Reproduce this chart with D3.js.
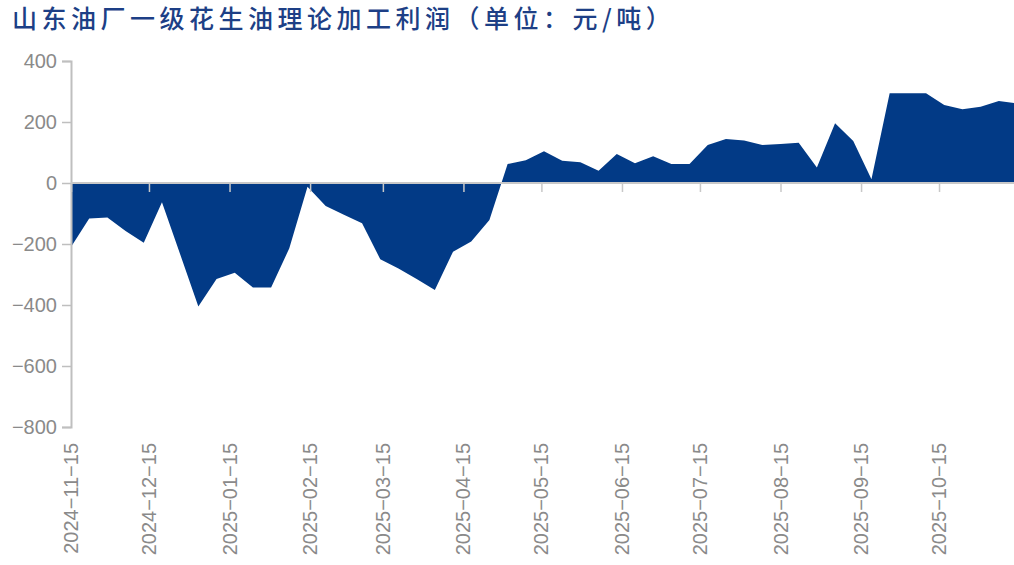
<!DOCTYPE html>
<html>
<head>
<meta charset="utf-8">
<script src="https://cdn.jsdelivr.net/npm/d3@7"></script>
<style>
	body { margin: 0; background: #fff; }
	svg { display: block; }
</style>
</head>
<body>
<div id="chart"></div>
<script>
'use strict';

// weekly dates (fridays) and profit values, yuan per ton
var startDate = '2024-11-15';
var profit = [
	-210, -116, -113, -157, -196, -63, -234, -405, -315, -294,
	-343, -343, -214, -12, -75, -104, -132, -250, -280, -315,
	-351, -225, -192, -121, 62, 75, 104, 73, 68, 40,
	95, 65, 88, 62, 62, 125, 144, 139, 125, 128,
	132, 51, 196, 138, 12, 294, 294, 294, 256, 242,
	250, 269, 261
];
var yTicks = [400, 200, 0, -200, -400, -600, -800];
var xTickLabels = [
	'2024-11-15', '2024-12-15', '2025-01-15', '2025-02-15', '2025-03-15', '2025-04-15',
	'2025-05-15', '2025-06-15', '2025-07-15', '2025-08-15', '2025-09-15', '2025-10-15'
];

InitVis();

function InitVis() {
	// constants
	var WIDTH = 1014,
		HEIGHT = 565;

	var parse = d3.utcParse('%Y-%m-%d');
	var start = parse(startDate);
	var data = profit.map(function(v, i) {
		return { date: d3.utcDay.offset(start, i * 7), value: v };
	});

	var x = d3.scaleUtc()
		.domain([start, d3.utcDay.offset(start, 364)])
		.range([71, 1017]);

	var y = d3.scaleLinear()
		.domain([-800, 400])
		.range([427, 61]);

	var svg = d3.select('#chart').append('svg')
		.attr('width', WIDTH)
		.attr('height', HEIGHT);

	// title
	svg.append('text')
		.attr('x', 12)
		.attr('y', 28)
		.style('font-family', '"Noto Sans CJK SC", sans-serif')
		.style('font-size', '25px')
		.style('font-weight', 500)
		.style('letter-spacing', '4.5px')
		.attr('fill', '#1d3f86')
		.text('山东油厂一级花生油理论加工利润（单位：元/吨）');

	// area
	var area = d3.area()
		.x(function(d) { return x(d.date); })
		.y0(y(0))
		.y1(function(d) { return y(d.value); });

	svg.append('path')
		.datum(data)
		.attr('d', area)
		.attr('fill', '#023a86');

	// y axis
	var yAxis = svg.append('g')
		.attr('transform', 'translate(71,0)')
		.call(d3.axisLeft(y).tickValues(yTicks).tickSize(9).tickPadding(5)
			.tickFormat(function(d) { return d3.format('d')(d).replace('-', '\u2212'); }));
	yAxis.select('.domain').attr('stroke', '#bfbfbf').attr('stroke-width', 2);
	yAxis.selectAll('.tick line').attr('stroke', '#bfbfbf').attr('stroke-width', 1.5);
	yAxis.selectAll('.tick text')
		.attr('fill', '#8a8a8a')
		.style('font-family', '"Liberation Sans", Arial, sans-serif')
		.style('font-size', '20px');

	// zero line with x ticks
	var xAxis = svg.append('g')
		.attr('transform', 'translate(0,' + y(0) + ')')
		.call(d3.axisBottom(x).tickValues(xTickLabels.map(parse)).tickSize(9).tickSizeOuter(0)
			.tickFormat(function(d) { return d3.utcFormat('%Y\u2212%m\u2212%d')(d); }));
	xAxis.select('.domain')
		.attr('d', 'M71,0H1014')
		.attr('stroke', '#c8c8c8')
		.attr('stroke-width', 2);
	xAxis.selectAll('.tick line').attr('stroke', '#c8c8c8').attr('stroke-width', 1.5);
	xAxis.selectAll('.tick text').remove();

	// rotated date labels below the plot
	svg.append('g')
		.selectAll('text')
		.data(xTickLabels)
		.enter().append('text')
			.attr('transform', function(d) { return 'translate(' + x(parse(d)) + ',443) rotate(-90)'; })
			.attr('dy', '0.35em')
			.style('text-anchor', 'end')
			.style('font-family', '"Liberation Sans", Arial, sans-serif')
			.style('font-size', '20px')
			.attr('fill', '#8a8a8a')
			.text(function(d) { return d.replace(/-/g, '\u2212'); });
}
</script>
</body>
</html>
